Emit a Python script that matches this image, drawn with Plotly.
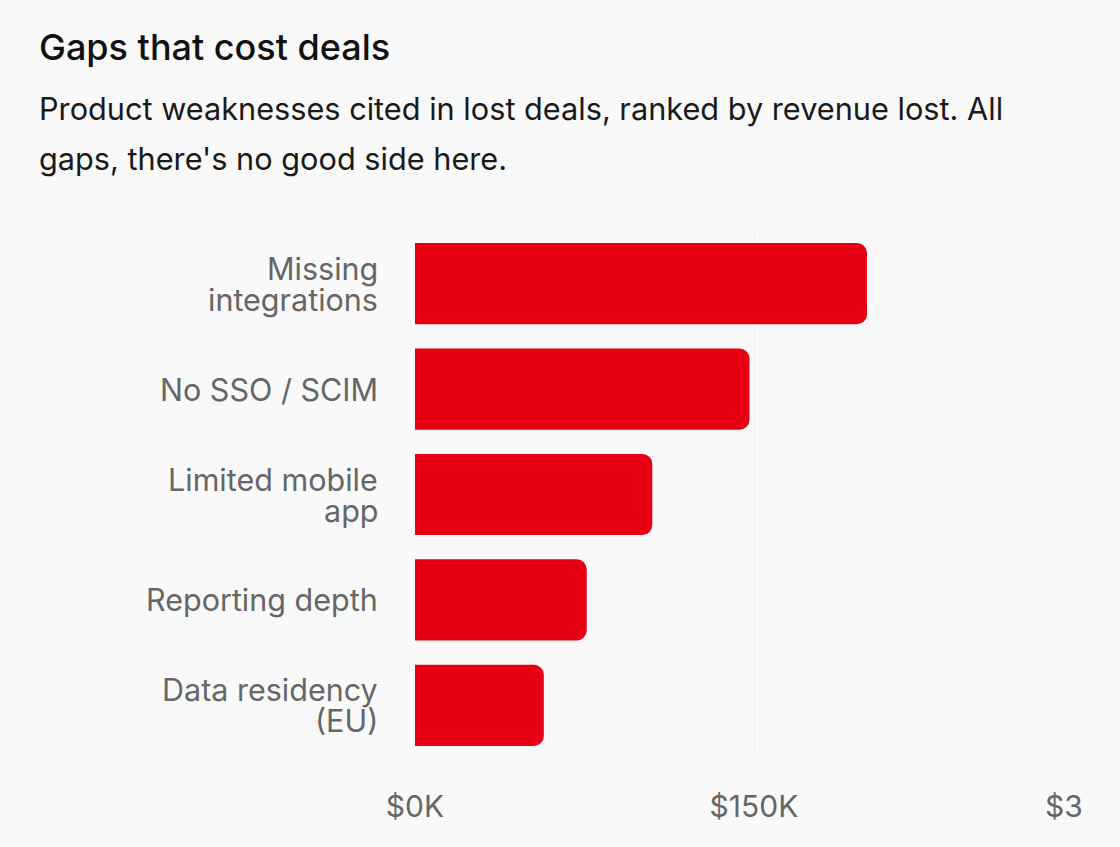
import plotly.graph_objects as go

categories = ["Missing<br>integrations", "No SSO / SCIM", "Limited mobile<br>app", "Reporting depth", "Data residency<br>(EU)"]
revenue_lost = [200000, 148000, 105000, 76000, 57000]
tick_vals = [0, 150000, 300000]
tick_text = ["$0K", "$150K", "$300K"]

BG = "#f9f9f9"
FONT = "Inter, 'Noto Sans', sans-serif"

fig = go.Figure(
    go.Bar(
        x=revenue_lost,
        y=categories,
        orientation="h",
        marker=dict(color="#e60012", line=dict(width=0)),
        hoverinfo="skip",
    )
)

W, H = 1120, 847
L, R, T, B = 415, 27, 231, 89
ph = H - T - B
pw = W - L - R

def px_to_paper_x(px):
    return (px - L) / pw

def px_to_paper_y(py):
    return (H - B - py) / ph

fig.update_layout(
    width=W,
    height=H,
    margin=dict(l=L, r=R, t=T, b=B, autoexpand=False),
    paper_bgcolor=BG,
    plot_bgcolor=BG,
    bargap=0.23,
    barcornerradius=10,
    showlegend=False,
    font=dict(family=FONT, size=31, color="#666666"),
    xaxis=dict(
        range=[0, 300000],
        tickvals=tick_vals,
        ticktext=tick_text,
        showgrid=True,
        gridcolor="#f1f1f1",
        gridwidth=1,
        zeroline=False,
        showline=False,
        ticks="outside",
        ticklen=22,
        tickcolor="rgba(0,0,0,0)",
        tickfont=dict(size=30, color="#666666"),
        ticklabeloverflow="allow",
        automargin=False,
        fixedrange=True,
    ),
    yaxis=dict(
        autorange="reversed",
        showgrid=False,
        zeroline=False,
        showline=False,
        showticklabels=False,
        automargin=False,
        fixedrange=True,
    ),
)

# the original chart's container clips content at its inner right padding
fig.add_shape(
    type="rect",
    xref="paper", yref="paper",
    x0=px_to_paper_x(1083), x1=px_to_paper_x(1125),
    y0=px_to_paper_y(H + 5), y1=px_to_paper_y(770),
    fillcolor=BG, line=dict(width=0), layer="above",
)

# category labels, one annotation per line to keep tight line spacing
LINE_PX = 31
for cat in categories:
    lines = cat.split("<br>")
    n = len(lines)
    for i, line in enumerate(lines):
        offset = (i - (n - 1) / 2) * LINE_PX
        fig.add_annotation(
            text=line,
            xref="paper", yref="y",
            x=px_to_paper_x(380), y=cat,
            xanchor="right", yanchor="middle",
            yshift=-offset,
            showarrow=False,
            font=dict(family=FONT, size=30.5, color="#666666"),
        )

fig.add_annotation(
    text="Gaps that cost deals",
    xref="paper", yref="paper",
    x=px_to_paper_x(37), y=px_to_paper_y(47),
    xanchor="left", yanchor="middle",
    showarrow=False,
    font=dict(family=FONT, size=36, color="#111111", weight=500),
)
fig.add_annotation(
    text="Product weaknesses cited in lost deals, ranked by revenue lost. All",
    xref="paper", yref="paper",
    x=px_to_paper_x(37), y=px_to_paper_y(108),
    xanchor="left", yanchor="middle",
    showarrow=False,
    font=dict(family=FONT, size=30.7, color="#1a1a1a"),
)
fig.add_annotation(
    text="gaps, there's no good side here.",
    xref="paper", yref="paper",
    x=px_to_paper_x(37), y=px_to_paper_y(159),
    xanchor="left", yanchor="middle",
    showarrow=False,
    font=dict(family=FONT, size=30.7, color="#1a1a1a"),
)

fig.write_html("out.html", config={"displayModeBar": False})
